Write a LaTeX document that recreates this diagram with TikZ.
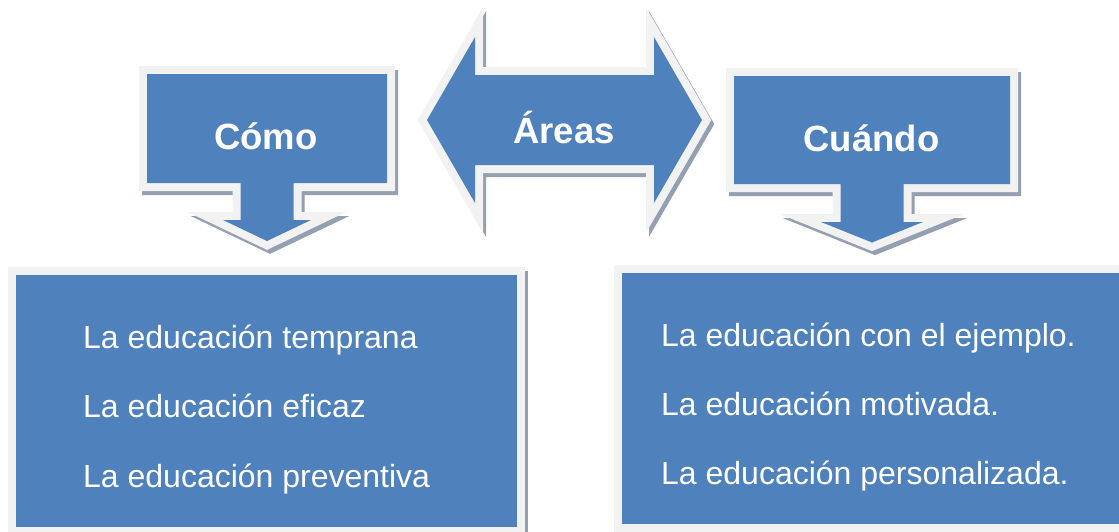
\documentclass[tikz,border=0pt]{standalone}
\usepackage{fontspec}
\setmainfont{Liberation Sans}
\definecolor{boxblue}{HTML}{4F81BD}
\definecolor{rimgrey}{HTML}{F2F2F2}
\definecolor{shadegrey}{HTML}{949FB1}
\tikzset{
  shadowst/.style={fill=shadegrey, draw=shadegrey, line width=16pt, line join=miter, miter limit=10},
  borderst/.style={draw=rimgrey, line width=16pt, line join=miter, miter limit=10},
  fillst/.style={fill=boxblue},
  titletext/.style={text=white, font=\bfseries\fontsize{36.5}{44}\selectfont, anchor=base, inner sep=0pt},
  itemtext/.style={text=white, font=\fontsize{32}{38}\selectfont, anchor=base west, inner sep=0pt}
}
\newcommand\drawshape[1]{%
  \path[shadowst, shift={(3,4)}] #1;
  \path[borderst] #1;
  \path[fillst] #1;
}
\begin{document}
\begin{tikzpicture}[x=1pt,y=-1pt]
\useasboundingbox (0,0) rectangle (1119,531);
\clip (0,0) rectangle (1119,531);
% Cómo callout
\drawshape{(147,74) -- (387,74) -- (387,183) -- (293.5,183) -- (293.5,220) -- (311,220) -- (267,241) -- (223,220) -- (240.5,220) -- (240.5,183) -- (147,183) -- cycle}
% Áreas double arrow
\drawshape{(427,120) -- (475,37) -- (475,75) -- (654,75) -- (654,37) -- (702,120) -- (654,203) -- (654,165) -- (475,165) -- (475,203) -- cycle}
% Cuándo callout
\drawshape{(734,76) -- (1010,76) -- (1010,184) -- (903.5,184) -- (903.5,222) -- (923,222) -- (872,242.5) -- (821,222) -- (840.5,222) -- (840.5,184) -- (734,184) -- cycle}
% lower boxes
\drawshape{(16,275) rectangle (517,527)}
\drawshape{(622,273) rectangle (1160,524)}
% titles
\node[titletext] (como) at (266,149) {Cómo};
\node[titletext] (areas) at (564,143) {Áreas};
\node[titletext] (cuando) at (871.5,151) {Cuándo};
% items
\node[itemtext] (l1) at (83,348) {La educación temprana};
\node[itemtext] (l2) at (83,417) {La educación eficaz};
\node[itemtext] (l3) at (83,487) {La educación preventiva};
\node[itemtext] (r1) at (661,346) {La educación con el ejemplo.};
\node[itemtext] (r2) at (661,415) {La educación motivada.};
\node[itemtext] (r3) at (661,484) {La educación personalizada.};
\end{tikzpicture}
\end{document}
